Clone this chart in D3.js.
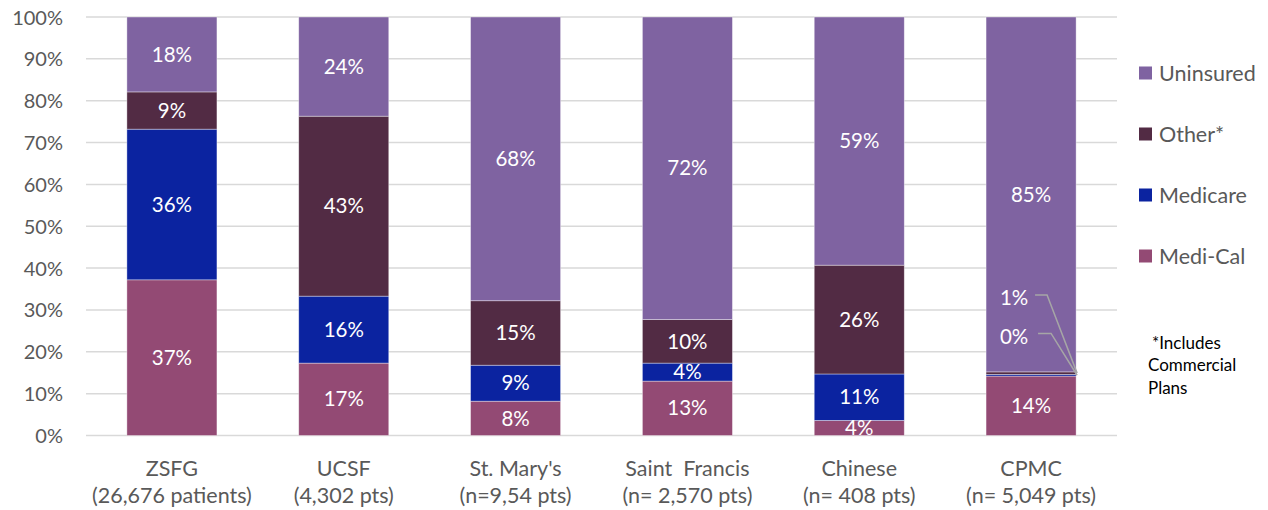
<!DOCTYPE html>
<html><head><meta charset="utf-8">
<script src="https://cdn.jsdelivr.net/npm/d3@7"></script>
<style>body{margin:0;background:#fff}svg{display:block}</style>
</head><body>
<script>
const categories = ["ZSFG", "UCSF", "St. Mary's", "Saint  Francis", "Chinese", "CPMC"];
const subLabels = ["(26,676 patients)", "(4,302 pts)", "(n=9,54 pts)", "(n= 2,570 pts)", "(n= 408 pts)", "(n= 5,049 pts)"];
const seriesNames = ["Medi-Cal", "Medicare", "Other*", "Uninsured"];
const mediCal   = [37.2, 17.3, 8.2, 13.0, 3.6, 14.2];
const medicare  = [36.0, 16.0, 8.6, 4.3, 11.1, 0.4];
const other     = [8.9, 43.0, 15.4, 10.4, 26.0, 0.6];
const uninsured = [17.9, 23.7, 67.8, 72.3, 59.3, 84.8];
const yTicks = [0, 10, 20, 30, 40, 50, 60, 70, 80, 90, 100];
const colors = ["#934A74", "#0B23A0", "#522B44", "#7F63A1"];
const footnote = ["*Includes", "Commercial", "Plans"];

const W = 1268, H = 510;
const font = "Lato, 'Open Sans', sans-serif";
const svg = d3.select("body").append("svg").attr("width", W).attr("height", H);

const x = d3.scaleBand().domain(categories).range([86, 1117]).paddingInner(0.476).paddingOuter(0.238);
const y = d3.scaleLinear().domain([0, 100]).range([435.5, 17]);

// gridlines
svg.append("g").selectAll("line").data(yTicks).join("line")
  .attr("x1", 86).attr("x2", 1117)
  .attr("y1", d => y(d)).attr("y2", d => y(d))
  .attr("stroke", "#d9d9d9").attr("stroke-width", 1.5);

// y axis
const yAxis = d3.axisLeft(y).tickValues(yTicks).tickFormat(d => d + "%").tickSize(0).tickPadding(0);
const ya = svg.append("g").attr("transform", "translate(63,0)").call(yAxis);
ya.select(".domain").remove();
ya.selectAll("text").attr("font-family", font).attr("font-size", 20).attr("fill", "#595959").attr("dy", "0.35em");

// stack
const seriesVals = [mediCal, medicare, other, uninsured];
const rows = categories.map((c, i) => {
  const r = {cat: c};
  seriesNames.forEach((s, j) => r[s] = seriesVals[j][i]);
  return r;
});
const stack = d3.stack().keys(seriesNames)(rows);

svg.append("defs").append("clipPath").attr("id", "plotclip")
  .append("rect").attr("x", 86).attr("y", 17).attr("width", 1031).attr("height", 435.5 - 17);

const gBars = svg.append("g");
stack.forEach((layer, j) => {
  gBars.selectAll(null).data(layer).join("rect")
    .attr("x", d => x(d.data.cat))
    .attr("width", x.bandwidth())
    .attr("y", d => y(d[1]))
    .attr("height", d => y(d[0]) - y(d[1]))
    .attr("fill", colors[j])
    .attr("stroke", "#ffffff").attr("stroke-opacity", 0.5).attr("stroke-width", 0.75);
});

// labels
const gLab = svg.append("g").attr("clip-path", "url(#plotclip)");
stack.forEach((layer, j) => {
  layer.forEach((d, i) => {
    const cat = d.data.cat;
    let lx = x(cat) + x.bandwidth() / 2, ly = y((d[0] + d[1]) / 2);
    if (cat === "CPMC" && (j === 1 || j === 2)) {
      const lyv = j === 2 ? y(d[1]) - 74 : y(d[1]) - 38;
      lx = x(cat) + 28; ly = lyv;
      const tipX = x(cat) + x.bandwidth() + 1, tipY = y((d[0] + d[1]) / 2);
      const sx = j === 2 ? lx + 21 : lx + 24;
      const kx = j === 2 ? sx + 12 : sx + 13;
      svg.append("polyline")
        .attr("points", `${sx},${ly - 3} ${kx},${ly - 3} ${tipX},${tipY}`)
        .attr("fill", "none").attr("stroke", "#a6a6a6").attr("stroke-width", 1.5);
    }
    gLab.append("text").attr("x", lx).attr("y", ly).attr("dy", "0.35em")
      .attr("text-anchor", "middle").attr("font-family", font).attr("font-size", 20.5)
      .attr("fill", "#ffffff").text(Math.round(d.data[seriesNames[j]]) + "%");
  });
});

// x labels
const gx = svg.append("g");
categories.forEach((c, i) => {
  const cx = x(c) + x.bandwidth() / 2;
  gx.append("text").attr("x", cx).attr("y", 468).attr("dy", "0.35em").attr("text-anchor", "middle")
    .attr("font-family", font).attr("font-size", 21.5).attr("fill", "#595959").style("white-space", "pre").text(c);
  gx.append("text").attr("x", cx).attr("y", 495).attr("dy", "0.35em").attr("text-anchor", "middle")
    .attr("font-family", font).attr("font-size", 21.5).attr("fill", "#595959").text(subLabels[i]);
});

// legend
const legendOrder = [3, 2, 1, 0];
const lg = svg.append("g");
legendOrder.forEach((j, k) => {
  const cy = 73 + k * 61;
  lg.append("rect").attr("x", 1139).attr("y", cy - 6.5).attr("width", 13).attr("height", 13).attr("fill", colors[j]);
  lg.append("text").attr("x", 1159).attr("y", cy).attr("dy", "0.35em")
    .attr("font-family", font).attr("font-size", 21.5).attr("fill", "#595959").text(seriesNames[j]);
});

// footnote
footnote.forEach((t, k) => {
  svg.append("text").attr("x", k === 0 ? 1152 : 1148).attr("y", 343 + k * 22.5).attr("dy", "0.35em")
    .attr("font-family", font).attr("font-size", 17).attr("fill", "#000").text(t);
});
</script>
</body></html>
